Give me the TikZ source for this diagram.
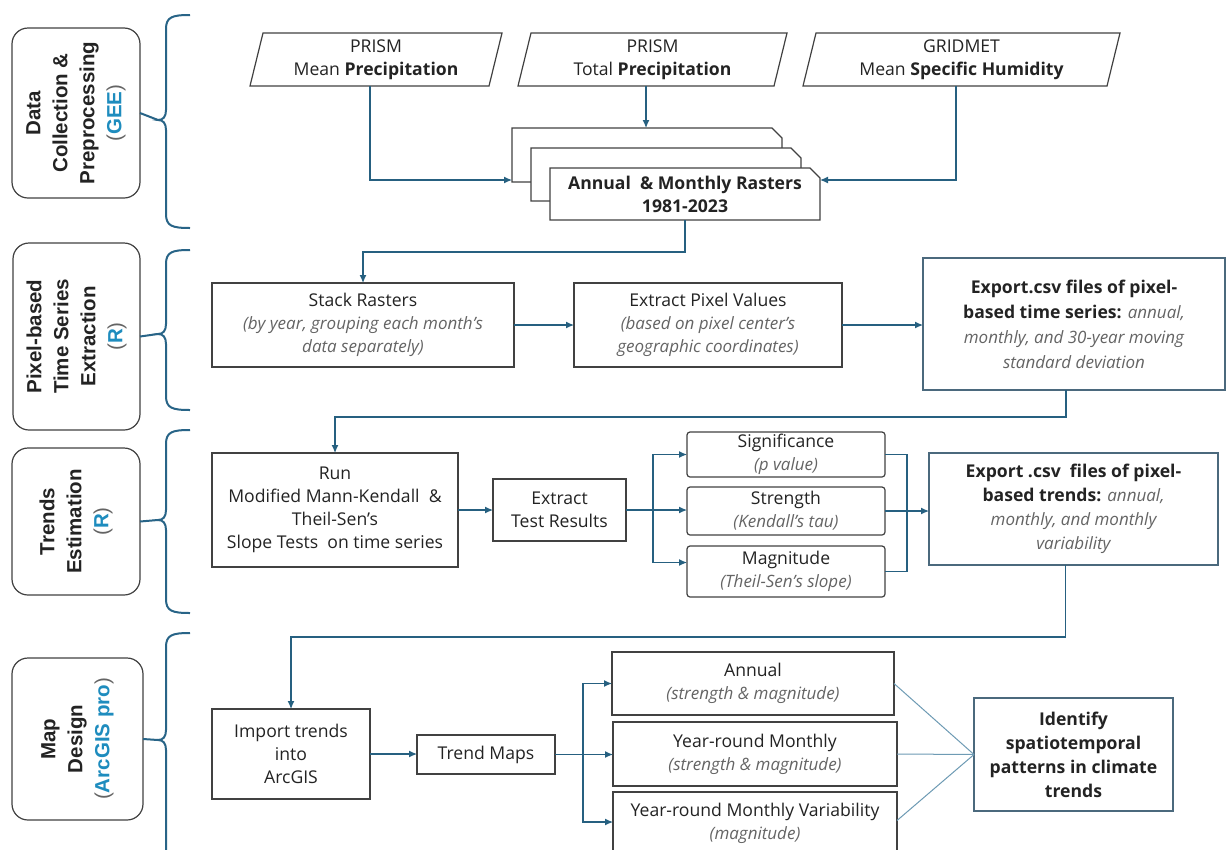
\documentclass[tikz,border=0pt]{standalone}
\usepackage{fontspec}
\setmainfont{Open Sans}
\newfontfamily\lblfont{Liberation Sans}
\usetikzlibrary{arrows.meta,calc}
\definecolor{boxc}{RGB}{65,65,65}
\definecolor{ebc}{RGB}{75,105,125}
\definecolor{arrc}{RGB}{38,96,128}
\definecolor{litec}{RGB}{110,155,180}
\definecolor{brcol}{RGB}{40,100,135}
\definecolor{txtc}{RGB}{35,35,35}
\definecolor{subc}{RGB}{100,100,100}
\definecolor{bluec}{RGB}{30,140,190}
\newcommand{\mfont}{\fontsize{17.6}{23}\selectfont}
\newcommand{\lfont}{\lblfont\fontsize{20.5}{27}\selectfont}
\newcommand{\subtxt}[1]{{\fontsize{17}{23}\selectfont\itshape\color{subc}#1}}
\newcommand{\bluetxt}[1]{{\color{subc}\mdseries(}{\color{bluec}\bfseries #1}{\color{subc}\mdseries)}}
\begin{document}
\begin{tikzpicture}[x=1pt,y=-1pt,
  box/.style={draw=boxc, line width=1.2pt, fill=white, inner sep=0pt, outer sep=0pt, align=center, text=txtc, font=\mfont},
  ebox/.style={box, draw=ebc},
  rbox/.style={box, rounded corners=3pt},
  lbox/.style={draw=boxc, line width=1.2pt, rounded corners=16pt, inner sep=0pt, outer sep=0pt},
  ltext/.style={rotate=90, align=center, font=\lfont, text=txtc},
  ghost/.style={inner sep=0pt, outer sep=0pt, align=center, text=txtc, font=\mfont},
  shapeline/.style={draw=boxc, line width=1.2pt, fill=white},
  arr/.style={draw=arrc, line width=1.2pt, -{Latex[length=8pt,width=7pt]}},
  ln/.style={draw=arrc, line width=1.2pt},
  lite/.style={draw=litec, line width=1pt},
  brc/.style={draw=brcol, line width=2pt}
]
\useasboundingbox (0,0) rectangle (1228,849);
\clip (0,0) rectangle (1228,849);
\fill[white] (0,0) rectangle (1228,849);

% ---------------- left labels ----------------
\node[lbox, minimum width=128pt, minimum height=170pt] (l1) at (76,113) {};
\node[ltext] at (l1) {\bfseries Data\\\bfseries Collection \&\\\bfseries Preprocessing\\\bluetxt{GEE}};
\node[lbox, minimum width=127pt, minimum height=187pt] (l2) at (76.5,336.5) {};
\node[ltext] at (l2) {\bfseries Pixel-based\\\bfseries Time Series\\\bfseries Extraction\\\bluetxt{R}};
\node[lbox, minimum width=128pt, minimum height=147pt] (l3) at (76,521.5) {};
\node[ltext] at (l3) {\bfseries Trends\\\bfseries Estimation\\\bluetxt{R}};
\node[lbox, minimum width=131pt, minimum height=162pt] (l4) at (77.5,739) {};
\node[ltext] at (l4) {\bfseries Map\\\bfseries Design\\\bluetxt{ArcGIS pro}};

% braces
\foreach \t/\m/\b/\n in {15/120/228/1, 250/334/410/2, 430/520/613/3, 633/740/875/4}{
  \coordinate (tip\n) at (158,\m);
  \draw[brc] (190,\t) .. controls (172,\t) and (166,\t+2) .. (166,\t+14)
     -- (166,\m-10) .. controls (166,\m-3) and (163,\m) .. (tip\n)
     .. controls (163,\m) and (166,\m+3) .. (166,\m+10)
     -- (166,\b-14) .. controls (166,\b-2) and (172,\b) .. (190,\b);
}
\draw[brc] (l1.east) -- (tip1);
\draw[brc] (l2.east) -- (tip2);
\draw[brc] (l3.east) -- (tip3);
\draw[brc] (l4.east) -- (tip4);

% ---------------- row 1 ----------------
\node[ghost, minimum width=239pt, minimum height=53pt] (p1) at (376,59.5) {};
\node[ghost, minimum width=256pt, minimum height=53pt] (p2) at (652.5,59.5) {};
\node[ghost, minimum width=304pt, minimum height=53pt] (p3) at (961.5,59.5) {};
\foreach \p in {p1,p2,p3}{
  \draw[shapeline] ([xshift=6.5pt]\p.north west) -- ([xshift=6.5pt]\p.north east)
    -- ([xshift=-6.5pt]\p.south east) -- ([xshift=-6.5pt]\p.south west) -- cycle;
}
\node[ghost] at (p1) {PRISM\\Mean \textbf{Precipitation}};
\node[ghost] at (p2) {PRISM\\Total \textbf{Precipitation}};
\node[ghost] at (p3) {GRIDMET\\Mean \textbf{Specific Humidity}};

% stacked documents
\node[ghost, minimum width=270pt, minimum height=54pt] (back) at (647,155) {};
\node[ghost, minimum width=270pt, minimum height=53pt] (mid) at (666,174.5) {};
\node[ghost, minimum width=270pt, minimum height=52pt] (front) at (685,194) {};
\foreach \d in {back,mid,front}{
  \draw[shapeline] (\d.south west) -- (\d.north west) -- ([xshift=-10pt]\d.north east)
    -- ([yshift=-10pt]\d.north east) -- (\d.south east) -- cycle;
}
\node[ghost, font=\mfont\bfseries] at (front) {Annual \ \& Monthly Rasters\\1981-2023};

\draw[arr] ([xshift=-6pt]p1.south) |- ([yshift=2pt]back.south west);
\draw[arr] ([xshift=-6.5pt]p2.south) -- ([xshift=-6.5pt]p2.south |- back.north);
\draw[arr] ([xshift=-5.5pt]p3.south) |- ([yshift=14pt]front.east);

% ---------------- row 2 ----------------
\node[box, minimum width=302pt, minimum height=84pt] (stack) at (363,325)
  {Stack Rasters\\\subtxt{(by year, grouping each month's}\\\subtxt{data separately)}};
\node[box, minimum width=268pt, minimum height=84pt] (extract) at (708,325)
  {Extract Pixel Values\\\subtxt{(based on pixel center's}\\\subtxt{geographic coordinates)}};
\node[ebox, minimum width=302pt, minimum height=132pt, font=\fontsize{17.6}{25}\selectfont] (export1) at (1074,324)
  {\textbf{Export.csv files of pixel-}\\\textbf{based time series:} \subtxt{annual,}\\\subtxt{monthly, and 30-year moving}\\\subtxt{standard deviation}};

\draw[arr] (front.south) -- ++(0,32) -| (stack.north);
\draw[arr] (stack.east) -- (extract.west);
\draw[arr] (extract.east) -- (extract.east -| export1.west);

% ---------------- row 3 ----------------
\node[box, minimum width=246pt, minimum height=114pt] (run) at (335,510)
  {Run\\Modified Mann-Kendall \ \&\\Theil-Sen's\\Slope Tests \ on time series};
\node[box, minimum width=133pt, minimum height=62pt] (extr2) at (559.5,510)
  {Extract\\Test Results};
\node[rbox, minimum width=198pt, minimum height=45pt] (sig) at (786,454.5)
  {Significance\\\subtxt{(p value)}};
\node[rbox, minimum width=198pt, minimum height=48pt] (str) at (786,511)
  {Strength\\\subtxt{(Kendall's tau)}};
\node[rbox, minimum width=198pt, minimum height=51pt] (mag) at (786,571.5)
  {Magnitude\\\subtxt{(Theil-Sen's slope)}};
\node[ebox, minimum width=289pt, minimum height=112pt, font=\fontsize{17.6}{24}\selectfont] (export2) at (1073.5,509)
  {\textbf{Export .csv \ files of pixel-}\\\textbf{based trends:} \subtxt{annual,}\\\subtxt{monthly, and monthly}\\\subtxt{variability}};

\draw[arr] ([xshift=-8pt]export1.south) -- ++(0,27) -| (run.north);
\draw[arr] (run.east) -- (run.east -| extr2.west);
\draw[ln] (extr2.east) -- ++(27,0) coordinate (b1);
\draw[arr] (b1) |- (sig.west);
\draw[arr] (b1) -- (b1 -| str.west);
\draw[arr] (b1) |- ([yshift=9pt]mag.west);
\draw[ln] (sig.east) -- ++(22,0) |- (mag.east);
\draw[arr] (str.east) -- (str.east -| export2.west);

% ---------------- row 4 ----------------
\node[box, minimum width=158pt, minimum height=90pt] (import) at (291,754)
  {Import trends\\into\\ArcGIS};
\node[box, minimum width=138pt, minimum height=39pt] (tmaps) at (486,754.5)
  {Trend Maps};
\node[box, minimum width=282pt, minimum height=63pt] (annual) at (753,683.5)
  {Annual\\\subtxt{(strength \& magnitude)}};
\node[box, minimum width=284pt, minimum height=64pt] (yrm) at (755,754)
  {Year-round Monthly\\\subtxt{(strength \& magnitude)}};
\node[box, minimum width=284pt, minimum height=63pt] (yrmv) at (755,823.5)
  {Year-round Monthly Variability\\\subtxt{(magnitude)}};
\node[ebox, minimum width=199pt, minimum height=113pt, font=\fontsize{17.6}{24}\selectfont\bfseries] (ident) at (1073.5,754.5)
  {Identify\\spatiotemporal\\patterns in climate\\trends};

\draw[arr] ([xshift=-8pt]export2.south) -- ++(0,72) -| (import.north);
\draw[arr] (import.east) -- (import.east -| tmaps.west);
\draw[ln] (tmaps.east) -- ++(28,0) coordinate (b2);
\draw[arr] (b2) |- (annual.west);
\draw[arr] (b2) -- (b2 -| yrm.west);
\draw[arr] (b2) |- ([yshift=1.5pt]yrmv.west);
\draw[lite] (annual.east) -- (ident.west);
\draw[lite] (yrm.east) -- (ident.west);
\draw[lite] ([yshift=3pt]yrmv.east) -- (ident.west);
\end{tikzpicture}
\end{document}
